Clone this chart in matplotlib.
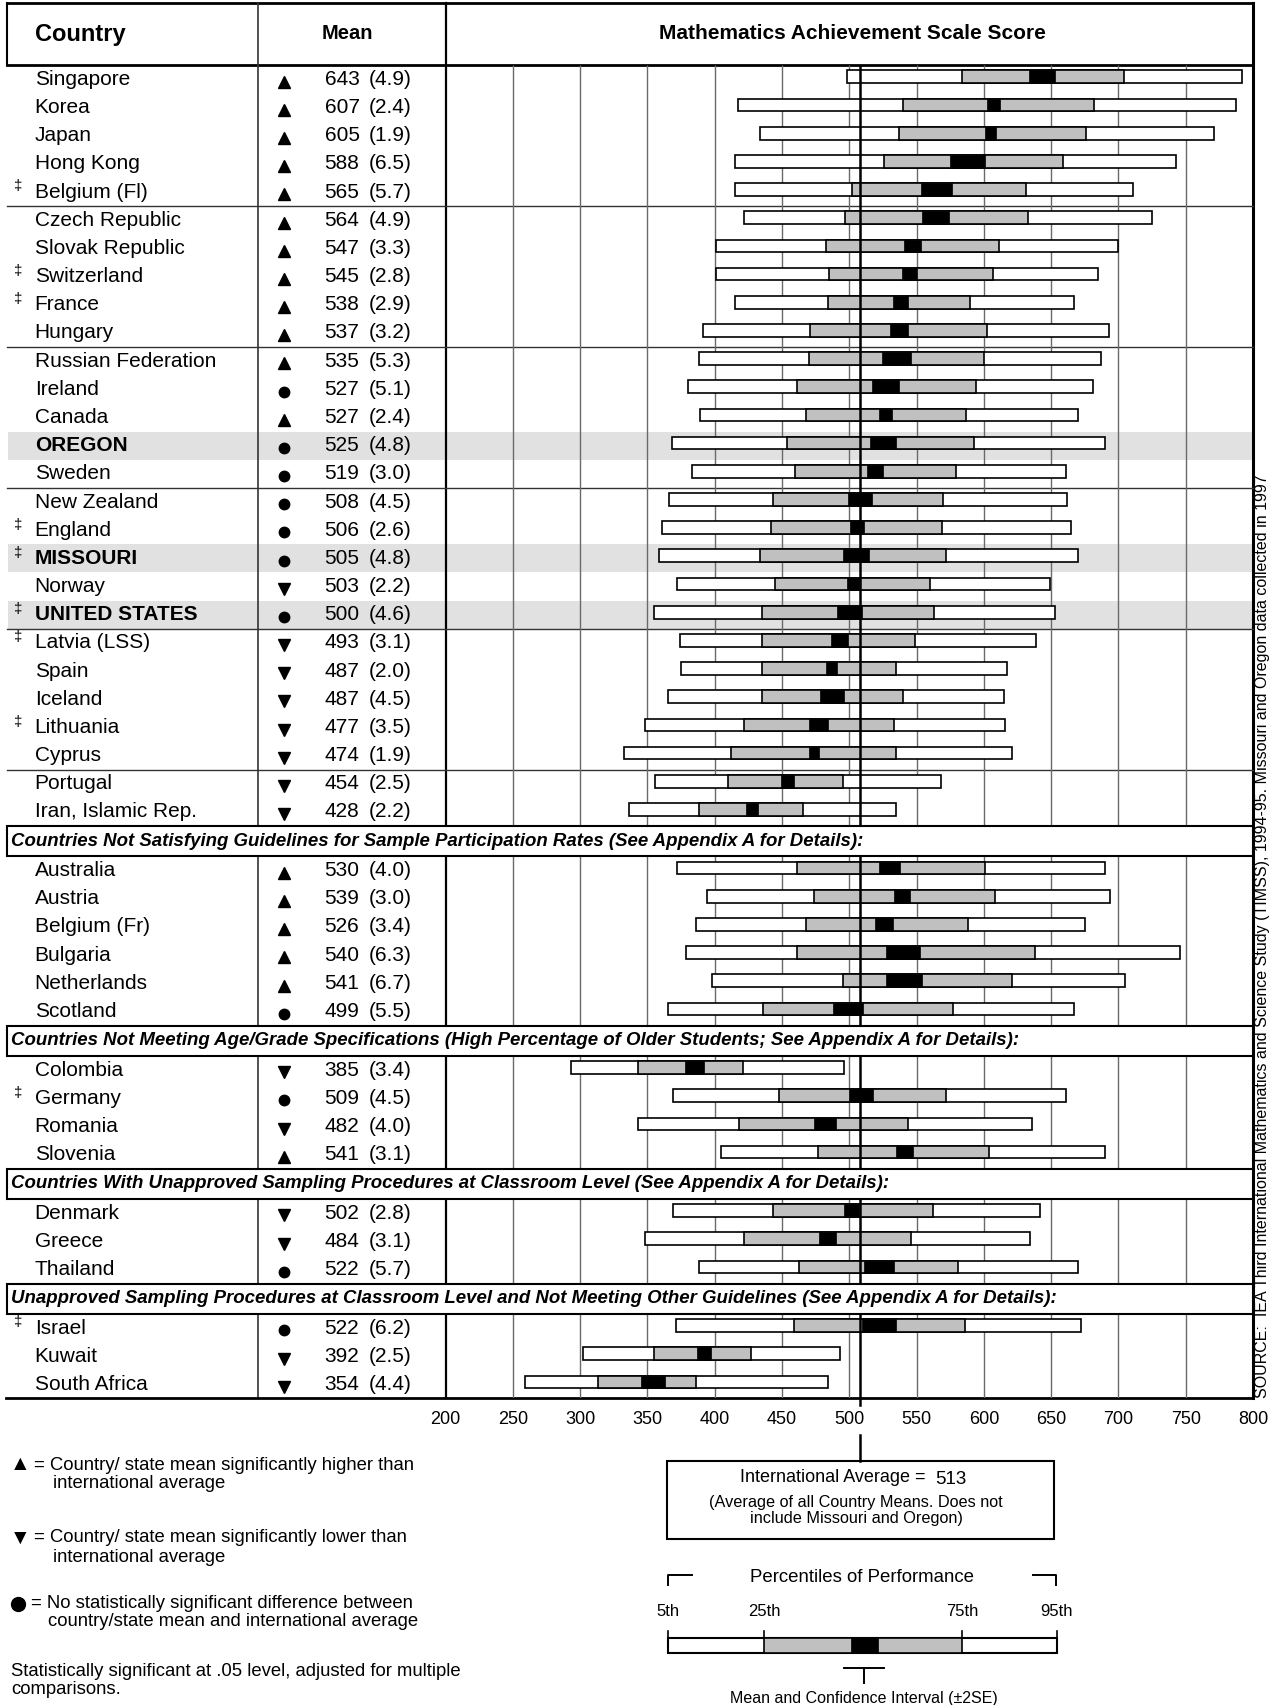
import matplotlib
matplotlib.use('Agg')
import matplotlib.pyplot as plt
import matplotlib.transforms as mtransforms
from matplotlib.patches import Rectangle
import numpy as np

plt.rcParams['font.family'] = ['Liberation Sans', 'DejaVu Sans']

# ---- data -------------------------------------------------------------
section_titles = [
    None,
    'Countries Not Satisfying Guidelines for Sample Participation Rates (See Appendix A for Details):',
    'Countries Not Meeting Age/Grade Specifications (High Percentage of Older Students; See Appendix A for Details):',
    'Countries With Unapproved Sampling Procedures at Classroom Level (See Appendix A for Details):',
    'Unapproved Sampling Procedures at Classroom Level and Not Meeting Other Guidelines (See Appendix A for Details):',
]
section_sizes = [27, 6, 4, 3, 3]

countries = ['Singapore', 'Korea', 'Japan', 'Hong Kong', 'Belgium (Fl)',
             'Czech Republic', 'Slovak Republic', 'Switzerland', 'France', 'Hungary',
             'Russian Federation', 'Ireland', 'Canada', 'OREGON', 'Sweden',
             'New Zealand', 'England', 'MISSOURI', 'Norway', 'UNITED STATES',
             'Latvia (LSS)', 'Spain', 'Iceland', 'Lithuania', 'Cyprus',
             'Portugal', 'Iran, Islamic Rep.',
             'Australia', 'Austria', 'Belgium (Fr)', 'Bulgaria', 'Netherlands', 'Scotland',
             'Colombia', 'Germany', 'Romania', 'Slovenia',
             'Denmark', 'Greece', 'Thailand',
             'Israel', 'Kuwait', 'South Africa']
dagger = ['Belgium (Fl)', 'Switzerland', 'France', 'England', 'MISSOURI',
          'UNITED STATES', 'Latvia (LSS)', 'Lithuania', 'Germany', 'Israel']
states = ['OREGON', 'MISSOURI', 'UNITED STATES']

# u = higher, d = lower, s = no significant difference
sig = ['u', 'u', 'u', 'u', 'u',
       'u', 'u', 'u', 'u', 'u',
       'u', 's', 'u', 's', 's',
       's', 's', 's', 'd', 's',
       'd', 'd', 'd', 'd', 'd',
       'd', 'd',
       'u', 'u', 'u', 'u', 'u', 's',
       'd', 's', 'd', 'u',
       'd', 'd', 's',
       's', 'd', 'd']
means = [643, 607, 605, 588, 565, 564, 547, 545, 538, 537,
         535, 527, 527, 525, 519, 508, 506, 505, 503, 500,
         493, 487, 487, 477, 474, 454, 428,
         530, 539, 526, 540, 541, 499,
         385, 509, 482, 541,
         502, 484, 522,
         522, 392, 354]
ses = [4.9, 2.4, 1.9, 6.5, 5.7, 4.9, 3.3, 2.8, 2.9, 3.2,
       5.3, 5.1, 2.4, 4.8, 3.0, 4.5, 2.6, 4.8, 2.2, 4.6,
       3.1, 2.0, 4.5, 3.5, 1.9, 2.5, 2.2,
       4.0, 3.0, 3.4, 6.3, 6.7, 5.5,
       3.4, 4.5, 4.0, 3.1,
       2.8, 3.1, 5.7,
       6.2, 2.5, 4.4]
p5 = [498, 417, 434, 415, 415, 422, 401, 401, 415, 391,
      388, 380, 389, 368, 383, 366, 361, 359, 372, 355,
      374, 375, 365, 348, 333, 356, 336,
      372, 394, 386, 379, 398, 365,
      293, 369, 343, 405,
      369, 348, 388,
      371, 302, 259]
p25 = [584, 540, 537, 526, 502, 497, 483, 485, 484, 471,
       470, 461, 468, 454, 460, 443, 442, 434, 445, 435,
       435, 435, 435, 422, 412, 410, 388,
       461, 474, 468, 461, 495, 436,
       343, 448, 418, 477,
       443, 422, 463,
       459, 355, 313]
p75 = [704, 682, 676, 659, 631, 633, 611, 607, 590, 602,
       600, 594, 587, 593, 579, 570, 569, 572, 560, 563,
       549, 535, 540, 533, 535, 495, 466,
       601, 608, 588, 638, 621, 577,
       421, 572, 544, 604,
       562, 546, 581,
       586, 427, 386]
p95 = [792, 787, 771, 743, 711, 725, 700, 685, 667, 693,
       687, 681, 670, 690, 661, 662, 665, 670, 649, 653,
       639, 617, 615, 616, 621, 568, 535,
       690, 694, 675, 746, 705, 667,
       496, 661, 636, 690,
       642, 634, 670,
       672, 493, 484]
first_groups = [5, 10, 15, 20, 25]      # separators after these rows

avg_label = 513
avg_line = 508                          # where the reference draws the line
xticks = list(range(200, 801, 50))
key_pct = [365, 437, 584, 654]          # 5th, 25th, 75th, 95th in the key
key_ci = [501, 521]
key_labels = ['5th', '25th', '75th', '95th']

source = ('SOURCE:  IEA Third International Mathematics and Science Study (TIMSS), '
          '1994-95. Missouri and Oregon data collected in 1997')

# ---- row layout -------------------------------------------------------
ys, hdr_y = [], []
y = 0.0
for k, n in enumerate(section_sizes):
    if k > 0:
        hdr_y.append(y - 1 + 1.04)
        y = y - 1 + 2.08
    for i in range(n):
        ys.append(y)
        y += 1
ys = np.array(ys)
means = np.array(means, float)
ses = np.array(ses, float)
p5, p25, p75, p95 = (np.array(a, float) for a in (p5, p25, p75, p95))

W, H = 1271, 1705
fig = plt.figure(figsize=(W / 100, H / 100), dpi=100)
lay = fig.add_axes([0, 0, 1, 1], zorder=0)
lay.set_xlim(0, W)
lay.set_ylim(H, 0)
lay.axis('off')

XL, XR = 445.5, 1253.0
YT, YB = 65.0, 1398.0
ax = fig.add_axes([XL / W, 1 - YB / H, (XR - XL) / W, (YB - YT) / H], zorder=1)
ytop, ybot = -0.51, ys[-1] + 0.48
ax.set_xlim(200, 800)
ax.set_ylim(ybot, ytop)
ax.set_autoscale_on(False)
ax.patch.set_visible(False)
for s in ax.spines.values():
    s.set_visible(False)

tr = mtransforms.blended_transform_factory(lay.transData, ax.transData)
trv = mtransforms.blended_transform_factory(ax.transData, lay.transData)

# highlighted state rows
for i, c in enumerate(countries):
    if c in states:
        lay.add_patch(Rectangle((8, ys[i] - 0.5), XR - 8, 1.0, transform=tr,
                                fc='#e1e1e1', ec='none', zorder=0))

# grid + bars
ax.vlines(xticks[1:-1], ytop, ybot, colors='#6a6a6a', lw=1.0, zorder=1)
yb = ys - 0.09
bh = 0.45
ax.barh(yb, p95 - p5, left=p5, height=bh, color='white', edgecolor='black', lw=1.2, zorder=2)
ax.barh(yb, p75 - p25, left=p25, height=bh, color='#c0c0c0', edgecolor='black', lw=1.2, zorder=2.1)
ax.vlines(avg_line, ytop, ybot, colors='black', lw=1.8, zorder=3)
ax.barh(yb, 4 * ses, left=means - 2 * ses, height=bh, color='black', edgecolor='black', lw=0.5, zorder=4)

# section header boxes
for hy, txt in zip(hdr_y, section_titles[1:]):
    ax.add_patch(Rectangle((7, hy - 0.54), XR - 7, 1.08, transform=tr, fc='white',
                           ec='black', lw=1.5, zorder=10, clip_on=False))
    ax.text(11, hy, txt, transform=tr, fontsize=13.4, fontweight='bold', fontstyle='italic',
            va='center', ha='left', zorder=11, clip_on=False)

ax.set_xticks(xticks)
ax.set_yticks([])
ax.tick_params(axis='x', length=0, pad=9.5, labelsize=13)

# frame lines
lay.plot([7, XR], [3, 3], color='black', lw=2)
lay.plot([7, XR], [YT, YT], color='black', lw=2)
lay.plot([7, 7], [3, YT], color='black', lw=1.5)
lay.plot([257.7, 257.7], [3, YB], color='#333333', lw=1.2)
lay.plot([XL, XL], [3, YB], color='black', lw=1.6)
lay.plot([XR, XR], [3, YB], color='black', lw=2.2)
lay.plot([6, XR], [YB, YB], color='black', lw=2)
for g in first_groups:
    lay.plot([7, XR], [ys[g - 1] + 0.5] * 2, transform=tr, color='#333333', lw=1, zorder=2)

# header texts
lay.text(35.5, 35, 'Country', fontsize=17, fontweight='bold', ha='left', va='center')
lay.text(347, 33.5, 'Mean', fontsize=14.5, fontweight='bold', ha='center', va='center')
lay.text(852, 33.5, 'Mathematics Achievement Scale Score', fontsize=15,
         fontweight='bold', ha='center', va='center')

# table rows
mk = {'u': '^', 'd': 'v', 's': 'o'}
ms = {'u': 8.5, 'd': 8.5, 's': 7.5}
for i, c in enumerate(countries):
    yy = ys[i]
    lay.text(34.7, yy, c, transform=tr, fontsize=15, va='center', ha='left',
             fontweight='bold' if c in states else 'normal')
    if c in dagger:
        lay.text(18.4, yy - 0.2, '\u2021', transform=tr, fontsize=11, va='center', ha='center')
    lay.plot([283.7], [yy + 0.08], transform=tr, marker=mk[sig[i]], ms=ms[sig[i]],
             color='black', linestyle='none')
    lay.text(324.5, yy, '%d' % means[i], transform=tr, fontsize=15, va='center', ha='left')
    lay.text(369, yy, '(%.1f)' % ses[i], transform=tr, fontsize=15, va='center', ha='left')

# source note
lay.text(1262, YB, source, rotation=90, ha='center', va='bottom', fontsize=11.5)

# international average box
lay.plot([avg_line, avg_line], [YB, 1405], transform=trv, color='black', lw=1.8)
lay.plot([avg_line, avg_line], [1435, 1461], transform=trv, color='black', lw=1.8)
lay.add_patch(Rectangle((667, 1461), 387, 78, fc='white', ec='black', lw=1.5))
lay.text(926, 1478, 'International Average =', fontsize=13, ha='right', va='center')
lay.text(935, 1479, str(avg_label), fontsize=13.5, ha='left', va='center')
lay.text(856, 1503, '(Average of all Country Means. Does not', fontsize=11.7, ha='center', va='center')
lay.text(856, 1518, 'include Missouri and Oregon)', fontsize=11.7, ha='center', va='center')

# legend for markers
lay.text(10, 1465, '\u25b2', fontsize=15, ha='left', va='center')
lay.text(34, 1465, '= Country/ state mean significantly higher than', fontsize=13.3, ha='left', va='center')
lay.text(53, 1483, 'international average', fontsize=13.3, ha='left', va='center')
lay.text(10, 1538, '\u25bc', fontsize=15, ha='left', va='center')
lay.text(34, 1538, '= Country/ state mean significantly lower than', fontsize=13.3, ha='left', va='center')
lay.text(53, 1557, 'international average', fontsize=13.3, ha='left', va='center')
lay.plot([18], [1604], marker='o', ms=10, color='black', linestyle='none')
lay.text(31, 1604, '= No statistically significant difference between', fontsize=13.3, ha='left', va='center')
lay.text(48, 1622, 'country/state mean and international average', fontsize=13.3, ha='left', va='center')
lay.text(11, 1671, 'Statistically significant at .05 level, adjusted for multiple', fontsize=13.3,
         ha='left', va='center')
lay.text(11, 1690, 'comparisons.', fontsize=13.3, ha='left', va='center')

# percentile key
lay.plot([668, 668, 692], [1585, 1575, 1575], color='black', lw=1.4)
lay.plot([1033, 1056, 1056], [1575, 1575, 1585], color='black', lw=1.4)
lay.text(862, 1578, 'Percentiles of Performance', fontsize=13.4, ha='center', va='center')
for v, lab in zip(key_pct, key_labels):
    lay.text(v, 1611, lab, transform=trv, fontsize=12, ha='center', va='center')
    lay.plot([v, v], [1631, 1638], transform=trv, color='black', lw=1.2)
kb = Rectangle((key_pct[0], 1638), key_pct[3] - key_pct[0], 15, transform=trv,
               fc='white', ec='black', lw=1.5)
lay.add_patch(kb)
lay.add_patch(Rectangle((key_pct[1], 1638), key_pct[2] - key_pct[1], 15, transform=trv,
                        fc='#c0c0c0', ec='black', lw=1.2))
lay.add_patch(Rectangle((key_ci[0], 1638), key_ci[1] - key_ci[0], 15, transform=trv,
                        fc='black', ec='black', lw=0.5))
kc = (key_ci[0] + key_ci[1]) / 2
lay.plot([kc - 15, kc + 15], [1668, 1668], transform=trv, color='black', lw=1.4)
lay.plot([kc, kc], [1668, 1683], transform=trv, color='black', lw=1.4)
lay.text(kc, 1698, 'Mean and Confidence Interval (\u00b12SE)', transform=trv, fontsize=11.5,
         ha='center', va='center')

fig.savefig('out.png', dpi=100)
